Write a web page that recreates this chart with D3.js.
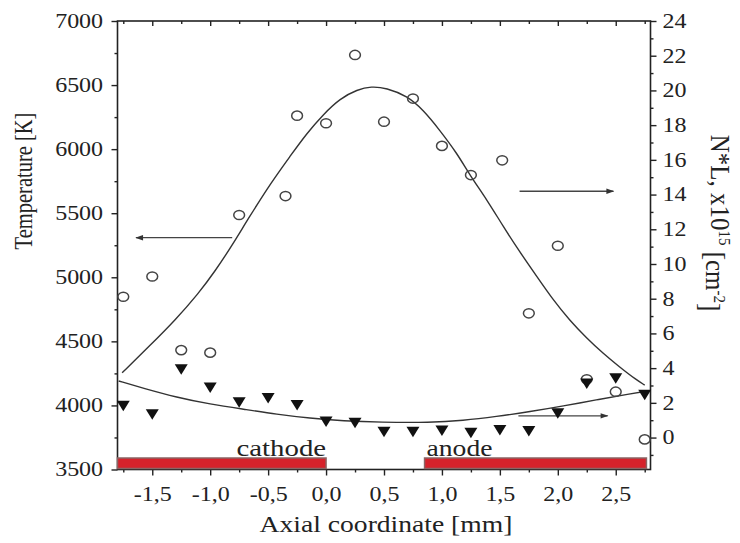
<!DOCTYPE html>
<html>
<head>
<meta charset="utf-8">
<script src="https://cdn.jsdelivr.net/npm/d3@7/dist/d3.min.js"></script>
<style>
  html, body { margin: 0; padding: 0; background: #fff; }
  svg { display: block; }
  text { font-family: "Liberation Serif", "Times New Roman", serif; fill: #222; }
</style>
</head>
<body>
<svg id="chart" width="740" height="543"></svg>
<script>
// Axial positions of the measurement points [mm]
const tempX = [-1.75, -1.5, -1.25, -1.0, -0.75, -0.35, -0.25, 0.0, 0.25, 0.5, 0.75, 1.0, 1.25, 1.52, 1.75, 2.0, 2.25, 2.5, 2.75];
// Temperature [K] (open circles, left axis)
const tempY = [4848, 5006, 4432, 4412, 5486, 5634, 6261, 6202, 6735, 6214, 6395, 6025, 5798, 5913, 4719, 5246, 4204, 4107, 3735];

const nlX = [-1.75, -1.5, -1.25, -1.0, -0.75, -0.5, -0.25, 0.0, 0.25, 0.5, 0.75, 1.0, 1.25, 1.5, 1.75, 2.0, 2.25, 2.5, 2.75];
// N*L, x10^15 cm^-2 (filled triangles, right axis)
const nlY = [1.84, 1.34, 3.94, 2.88, 2.04, 2.28, 1.88, 0.92, 0.86, 0.34, 0.34, 0.40, 0.28, 0.44, 0.38, 1.40, 3.12, 3.42, 2.46];

// Fitted temperature profile (solid line, left axis)
const tempFitX = [-1.76, -1.53, -1.30, -1.10, -0.96, -0.81, -0.67, -0.47, -0.31, -0.17, -0.02, 0.12, 0.27, 0.39, 0.52, 0.70, 0.84, 0.98, 1.13, 1.24, 1.39, 1.53, 1.67, 1.82, 1.96, 2.10, 2.25, 2.39, 2.53, 2.68, 2.75];
const tempFitY = [4255, 4458, 4667, 4875, 5045, 5250, 5460, 5745, 5945, 6120, 6275, 6395, 6465, 6490, 6478, 6415, 6305, 6149, 5968, 5798, 5603, 5395, 5200, 5005, 4823, 4667, 4524, 4407, 4302, 4198, 4159];

// Fitted N*L profile (solid line, right axis)
const nlFitX = [-1.79, -1.575, -1.29, -1.0, -0.71, -0.425, -0.14, 0.15, 0.47, 0.90, 1.18, 1.47, 1.76, 2.05, 2.33, 2.62, 2.79];
const nlFitY = [3.26, 2.84, 2.32, 1.92, 1.63, 1.34, 1.11, 0.96, 0.88, 0.86, 0.98, 1.21, 1.49, 1.82, 2.17, 2.51, 2.70];

// Tick values
const xMajor = [-1.5, -1.0, -0.5, 0.0, 0.5, 1.0, 1.5, 2.0, 2.5];
const xMinor = [-1.75, -1.25, -0.75, -0.25, 0.25, 0.75, 1.25, 1.75, 2.25, 2.75];
const tMajor = [3500, 4000, 4500, 5000, 5500, 6000, 6500, 7000];
const tMinor = [3750, 4250, 4750, 5250, 5750, 6250, 6750];
const nMajor = [0, 2, 4, 6, 8, 10, 12, 14, 16, 18, 20, 22, 24];
const nMinor = [-1, 1, 3, 5, 7, 9, 11, 13, 15, 17, 19, 21, 23];

// Electrode extents along the axis [mm]
const electrodeNames = ["cathode", "anode"];
const electrodeFrom = [-1.8, 0.85];
const electrodeTo = [0.0, 2.765];

// Direction arrows: which axis each curve belongs to
const arrowX1 = [-0.81, 1.67, 1.66];
const arrowX2 = [-1.64, 2.48, 2.43];
const arrowVal = [5309, 14.19, 1.25];
const arrowAxis = ["T", "N", "N"];

const svg = d3.select("#chart");
const L = 117.5, R = 650.5, T = 21, B = 469.5;
const SX = 1.2; // horizontal glyph stretch

const x = d3.scaleLinear().domain([-1.8, 2.8]).range([L, R]);
const yT = d3.scaleLinear().domain([3500, 7000]).range([B, T]);
const yN = d3.scaleLinear().domain([-1.84, 24]).range([B, T]);

const fmtX = v => d3.format(".1f")(v).replace(".", ",").replace("\u2212", "-");

const ink = "#222";

function styleAxis(g) {
  g.select(".domain").remove();
  g.selectAll("line").attr("stroke", ink).attr("stroke-width", 1.4);
  g.selectAll("text").attr("font-size", 20).attr("fill", ink)
    .attr("font-family", '"Liberation Serif", serif');
}

// Bottom axis
const gB = svg.append("g").attr("transform", `translate(0,${B})`);
gB.call(d3.axisBottom(x).tickValues(xMajor).tickSize(6).tickPadding(7).tickFormat(fmtX)).call(styleAxis);
gB.selectAll("text").attr("transform", `scale(${SX},1)`).attr("dy", "0.95em");
svg.append("g").attr("transform", `translate(0,${B})`)
  .call(d3.axisBottom(x).tickValues(xMinor).tickSize(3).tickFormat("")).call(styleAxis);

// Top axis (ticks inward)
svg.append("g").attr("transform", `translate(0,${T})`)
  .call(d3.axisBottom(x).tickValues(xMajor).tickSize(5).tickFormat("")).call(styleAxis);
svg.append("g").attr("transform", `translate(0,${T})`)
  .call(d3.axisBottom(x).tickValues(xMinor).tickSize(3).tickFormat("")).call(styleAxis);

// Left axis
const gL = svg.append("g").attr("transform", `translate(${L},0)`);
gL.call(d3.axisLeft(yT).tickValues(tMajor).tickSize(6).tickPadding(6).tickFormat(d3.format("d"))).call(styleAxis);
gL.selectAll("text").attr("transform", `scale(${SX},1)`);
svg.append("g").attr("transform", `translate(${L},0)`)
  .call(d3.axisLeft(yT).tickValues(tMinor).tickSize(3).tickFormat("")).call(styleAxis);

// Right axis
const gR = svg.append("g").attr("transform", `translate(${R},0)`);
gR.call(d3.axisRight(yN).tickValues(nMajor).tickSize(6).tickPadding(4).tickFormat(d3.format("d"))).call(styleAxis);
gR.selectAll("text").attr("transform", `scale(${SX},1)`);
svg.append("g").attr("transform", `translate(${R},0)`)
  .call(d3.axisRight(yN).tickValues(nMinor).tickSize(3).tickFormat("")).call(styleAxis);

// Frame lines
svg.append("rect").attr("x", L).attr("y", T).attr("width", R - L).attr("height", B - T)
  .attr("fill", "none").attr("stroke", ink).attr("stroke-width", 1.6);

// Electrodes
const elec = svg.append("g");
electrodeNames.forEach((name, i) => {
  const x0 = x(electrodeFrom[i]), x1 = x(electrodeTo[i]);
  elec.append("rect").attr("x", x0).attr("y", B - 11.5).attr("width", x1 - x0).attr("height", 10.5)
    .attr("fill", "#d6222b").attr("stroke", "#8a6464").attr("stroke-width", 1.5);
  const anchorX = i === 0 ? x1 : x0 + 2;
  elec.append("text")
    .attr("transform", `translate(${anchorX},${B - 14}) scale(${SX},1)`)
    .attr("text-anchor", i === 0 ? "end" : "start")
    .attr("font-size", i === 0 ? 24 : 23).text(name);
});

// Fitted curves
const lineT = d3.line().x((d, i) => x(tempFitX[i])).y(d => yT(d)).curve(d3.curveBasis);
svg.append("path").attr("d", lineT(tempFitY)).attr("fill", "none").attr("stroke", "#333").attr("stroke-width", 1.4);
const lineN = d3.line().x((d, i) => x(nlFitX[i])).y(d => yN(d)).curve(d3.curveBasis);
svg.append("path").attr("d", lineN(nlFitY)).attr("fill", "none").attr("stroke", "#333").attr("stroke-width", 1.4);

// Arrows
const defs = svg.append("defs");
defs.append("marker").attr("id", "head").attr("viewBox", "0 0 10 10").attr("refX", 9).attr("refY", 5)
  .attr("markerWidth", 8).attr("markerHeight", 6).attr("orient", "auto")
  .append("path").attr("d", "M0,1.5 L10,5 L0,8.5 Z").attr("fill", "#333");
arrowVal.forEach((v, i) => {
  const yy = arrowAxis[i] === "T" ? yT(v) : yN(v);
  svg.append("line").attr("x1", x(arrowX1[i])).attr("x2", x(arrowX2[i])).attr("y1", yy).attr("y2", yy)
    .attr("stroke", "#444").attr("stroke-width", 1.3).attr("marker-end", "url(#head)");
});

// Temperature points: open circles
svg.append("g").selectAll("ellipse").data(tempY).join("ellipse")
  .attr("cx", (d, i) => x(tempX[i])).attr("cy", d => yT(d))
  .attr("rx", 5.4).attr("ry", 4.6)
  .attr("fill", "none").attr("stroke", "#444").attr("stroke-width", 1.5);

// N*L points: filled down triangles
svg.append("g").selectAll("path").data(nlY).join("path")
  .attr("transform", (d, i) => `translate(${x(nlX[i])},${yN(d)})`)
  .attr("d", "M-6.5,-5 L6.5,-5 L0,5.5 Z")
  .attr("fill", "#111");

// Axis titles
svg.append("text")
  .attr("transform", `translate(386,532) scale(${SX},1)`)
  .attr("text-anchor", "middle").attr("font-size", 23).text("Axial coordinate [mm]");

svg.append("text")
  .attr("transform", `translate(32,181) scale(${SX},1) rotate(-90)`)
  .attr("text-anchor", "middle").attr("font-size", 20.5).text("Temperature [K]");

const rt = svg.append("text")
  .attr("transform", `translate(711,223) scale(1.12,1) rotate(90)`)
  .attr("text-anchor", "middle").attr("font-size", 25);
rt.append("tspan").text("N*L, x10");
rt.append("tspan").attr("dy", "-0.45em").attr("font-size", 15).text("15");
rt.append("tspan").attr("dy", "0.45em").text(" [cm");
rt.append("tspan").attr("dy", "-0.45em").attr("font-size", 15).text("-2");
rt.append("tspan").attr("dy", "0.45em").text("]");
</script>
</body>
</html>
